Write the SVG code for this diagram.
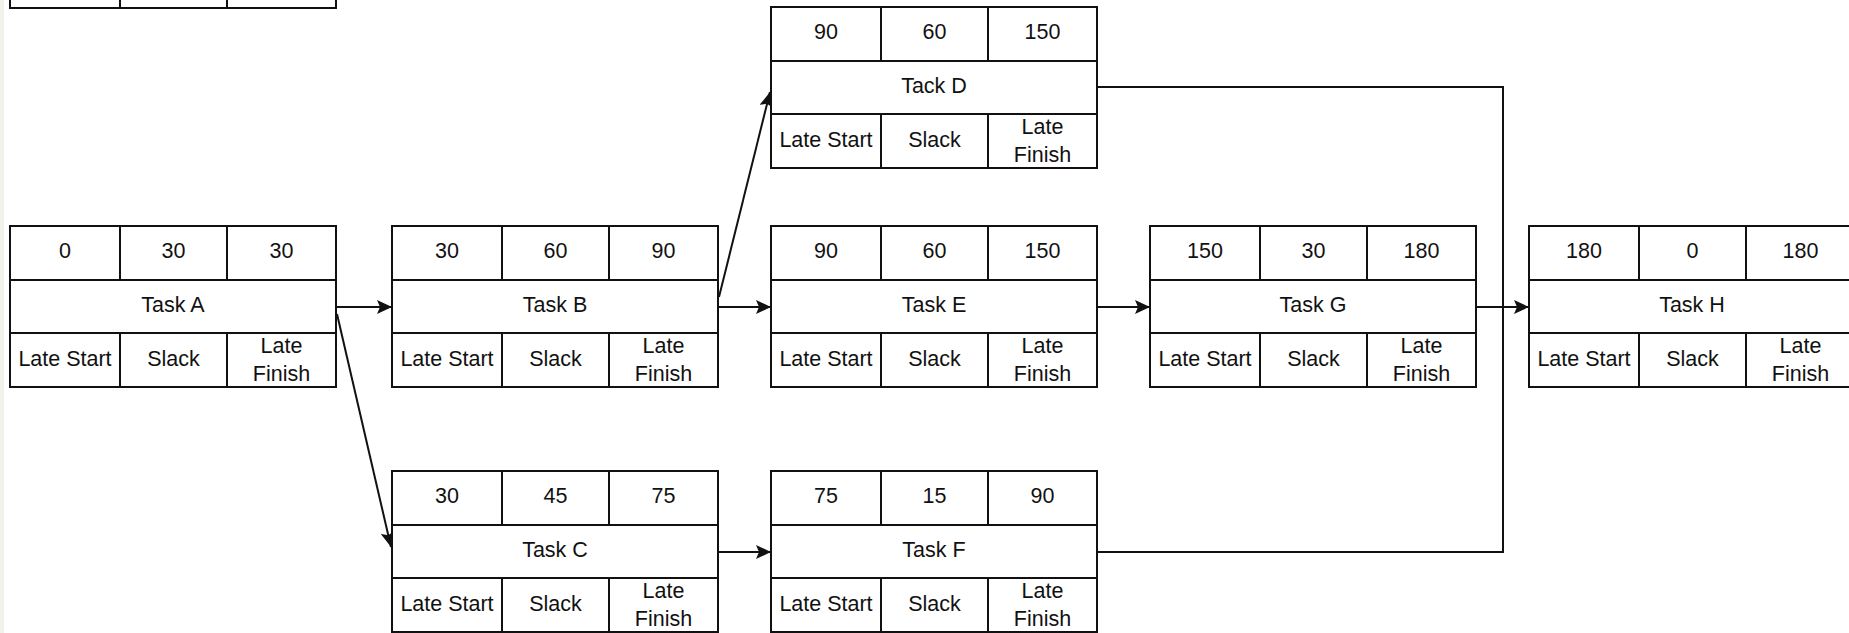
<svg xmlns="http://www.w3.org/2000/svg" width="1849" height="633" viewBox="0 0 1849 633">
<style>
.box{fill:#fff;stroke:#111;stroke-width:2}
.ln{stroke:#111;stroke-width:2;fill:none}
text{font-family:"Liberation Sans",Arial,sans-serif;font-size:21.5px;fill:#111;text-anchor:middle}
.conn{stroke:#111;stroke-width:2;fill:none}
</style>
<defs>
<marker id="ah" markerUnits="userSpaceOnUse" markerWidth="16" markerHeight="14" refX="15" refY="7" orient="auto">
<path d="M0,0 L15,7 L0,14 L3,7 z" fill="#111"/>
</marker>
<g id="frame">
<rect class="box" x="0" y="0" width="326" height="161"/>
<path class="ln" d="M0,54H326M0,107H326M110,0V54M217,0V54M110,107V161M217,107V161"/>
<text x="55" y="140">Late Start</text>
<text x="163.5" y="140">Slack</text>
<text x="271.5" y="127">Late</text>
<text x="271.5" y="155">Finish</text>
</g>
</defs>
<rect x="0" y="0" width="4" height="633" fill="#f3f2ea"/>

<g id="connectors">
<line class="conn" x1="337" y1="307" x2="392" y2="307" marker-end="url(#ah)"/>
<line class="conn" x1="337" y1="314" x2="391" y2="547" marker-end="url(#ah)"/>
<line class="conn" x1="719" y1="297" x2="770" y2="92" marker-end="url(#ah)"/>
<line class="conn" x1="718" y1="307" x2="771" y2="307" marker-end="url(#ah)"/>
<line class="conn" x1="718" y1="552" x2="771" y2="552" marker-end="url(#ah)"/>
<line class="conn" x1="1097" y1="307" x2="1150" y2="307" marker-end="url(#ah)"/>
<polyline class="conn" points="1097,87 1503,87 1503,552 1097,552"/>
<line class="conn" x1="1476" y1="307" x2="1529" y2="307" marker-end="url(#ah)"/>
</g>

<g id="node-top">
<rect class="box" x="10" y="-153" width="326" height="161"/>
<path class="ln" d="M10,-99H336M10,-46H336M120,-46V8M227,-46V8"/>
</g>

<g id="task-a" transform="translate(10,226)">
<use href="#frame"/>
<text x="55" y="32">0</text><text x="163.5" y="32">30</text><text x="271.5" y="32">30</text>
<text x="163" y="86">Task A</text>
</g>

<g id="task-b" transform="translate(392,226)">
<use href="#frame"/>
<text x="55" y="32">30</text><text x="163.5" y="32">60</text><text x="271.5" y="32">90</text>
<text x="163" y="86">Task B</text>
</g>

<g id="task-d" transform="translate(771,7)">
<use href="#frame"/>
<text x="55" y="32">90</text><text x="163.5" y="32">60</text><text x="271.5" y="32">150</text>
<text x="163" y="86">Tack D</text>
</g>

<g id="task-e" transform="translate(771,226)">
<use href="#frame"/>
<text x="55" y="32">90</text><text x="163.5" y="32">60</text><text x="271.5" y="32">150</text>
<text x="163" y="86">Task E</text>
</g>

<g id="task-g" transform="translate(1150,226)">
<use href="#frame"/>
<text x="55" y="32">150</text><text x="163.5" y="32">30</text><text x="271.5" y="32">180</text>
<text x="163" y="86">Task G</text>
</g>

<g id="task-h" transform="translate(1529,226)">
<use href="#frame"/>
<text x="55" y="32">180</text><text x="163.5" y="32">0</text><text x="271.5" y="32">180</text>
<text x="163" y="86">Task H</text>
</g>

<g id="task-c" transform="translate(392,471)">
<use href="#frame"/>
<text x="55" y="32">30</text><text x="163.5" y="32">45</text><text x="271.5" y="32">75</text>
<text x="163" y="86">Task C</text>
</g>

<g id="task-f" transform="translate(771,471)">
<use href="#frame"/>
<text x="55" y="32">75</text><text x="163.5" y="32">15</text><text x="271.5" y="32">90</text>
<text x="163" y="86">Task F</text>
</g>
</svg>
